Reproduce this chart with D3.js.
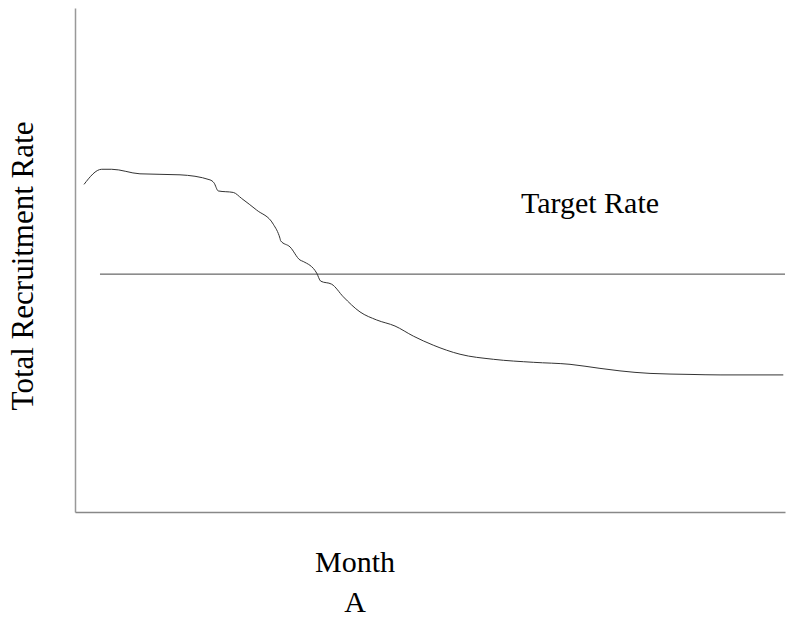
<!DOCTYPE html>
<html><head><meta charset="utf-8">
<script src="https://cdn.jsdelivr.net/npm/d3@7"></script>
<style>body{margin:0;background:#fff}text{font-family:"Liberation Serif","Times New Roman",serif}</style>
</head><body>
<svg id="c" width="801" height="618"></svg>
<script>
const months = [1.27,3.76,5.17,9.15,14.79,19.01,19.58,20.18,22.30,23.48,25.59,27.93,28.87,28.97,30.28,31.69,32.15,34.04,34.61,36.15,37.79,40.14,42.49,45.07,47.65,50.46,54.23,58.92,64.55,69.72,73.94,76.76,80.99,86.62,90.85,99.76];
const rates = [65.0,68.0,68.0,67.1,66.9,65.9,65.3,63.7,63.4,62.2,59.9,57.1,54.3,53.8,52.6,50.0,49.7,47.4,45.8,45.2,42.7,39.7,38.1,36.9,34.9,33.1,31.3,30.3,29.7,29.3,28.5,28.0,27.5,27.3,27.2,27.2];
const targetMonths = [3.52, 100];
const targetRate = 47.2;
const labels = {y:"Total Recruitment Rate", x:"Month", sub:"A", target:"Target Rate"};

const svg = d3.select("#c");
const x = d3.scaleLinear().domain([0,100]).range([75,785]);
const y = d3.scaleLinear().domain([0,100]).range([512,8]);

svg.append("g").attr("transform","translate(75,0)")
  .call(d3.axisLeft(y).ticks(0).tickSizeOuter(0))
  .select(".domain").attr("stroke","#999").attr("stroke-width",1.5);
svg.append("g").attr("transform","translate(0,512)")
  .call(d3.axisBottom(x).ticks(0).tickSizeOuter(0))
  .select(".domain").attr("stroke","#888").attr("stroke-width",1.5);

svg.append("line")
  .attr("x1",x(targetMonths[0])).attr("x2",x(targetMonths[1]))
  .attr("y1",y(targetRate)).attr("y2",y(targetRate))
  .attr("stroke","#444").attr("stroke-width",1);

const data = months.map((m,i)=>({m, r:rates[i]}));
svg.append("path").datum(data)
  .attr("d", d3.line().x(d=>x(d.m)).y(d=>y(d.r)).curve(d3.curveMonotoneX))
  .attr("fill","none").attr("stroke","#333").attr("stroke-width",1);

const fs = 30;
svg.append("text").attr("x",590).attr("y",213).attr("text-anchor","middle")
  .attr("font-size",fs).text(labels.target);
svg.append("text").attr("transform","translate(33,266) rotate(-90)")
  .attr("text-anchor","middle").attr("font-size",31).text(labels.y);
svg.append("text").attr("x",355).attr("y",572).attr("text-anchor","middle")
  .attr("font-size",fs).text(labels.x);
svg.append("text").attr("x",355).attr("y",612).attr("text-anchor","middle")
  .attr("font-size",fs).text(labels.sub);
</script>
</body></html>
